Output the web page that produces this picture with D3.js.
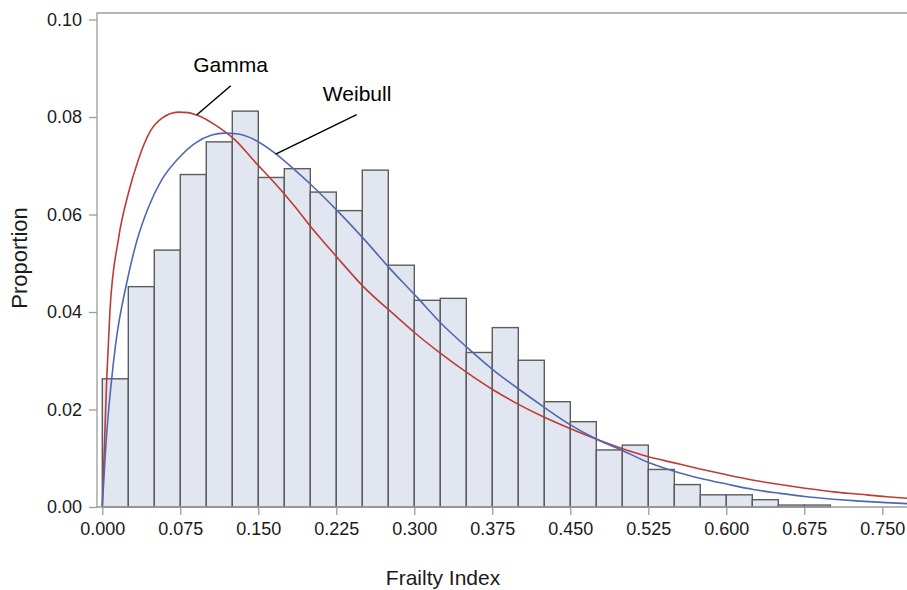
<!DOCTYPE html>
<html>
<head>
<meta charset="utf-8">
<script src="https://cdn.jsdelivr.net/npm/d3@7"></script>
<style>
  body { margin: 0; background: #fff; }
  svg { display: block; font-family: Arial, "Liberation Sans", Helvetica, sans-serif; }
</style>
</head>
<body>
<svg id="chart" width="907" height="590"></svg>
<script>
// histogram: bin lower edges (width 0.025) and proportions
const binWidth = 0.025;
const binStarts = [0.000, 0.025, 0.050, 0.075, 0.100, 0.125, 0.150, 0.175, 0.200, 0.225,
                   0.250, 0.275, 0.300, 0.325, 0.350, 0.375, 0.400, 0.425, 0.450, 0.475,
                   0.500, 0.525, 0.550, 0.575, 0.600, 0.625, 0.650, 0.675];
const proportions = [0.0263, 0.0452, 0.0527, 0.0682, 0.0749, 0.0812, 0.0676, 0.0694, 0.0646, 0.0608,
                     0.0691, 0.0496, 0.0424, 0.0428, 0.0317, 0.0368, 0.0301, 0.0216, 0.0175, 0.0117,
                     0.0127, 0.0077, 0.0046, 0.0025, 0.0025, 0.0015, 0.0004, 0.0004];

// fitted density curves
const gammaX = [0, 0.0042, 0.0074, 0.0154, 0.0250, 0.0346, 0.0459, 0.0571, 0.0731, 0.0827,
                0.0908, 0.1084, 0.1276, 0.1468, 0.1660, 0.1853, 0.1997, 0.2254, 0.2510, 0.2831,
                0.2990, 0.3247, 0.3504, 0.3760, 0.4016, 0.4240, 0.4497, 0.4754, 0.5010, 0.5235,
                0.5490, 0.5747, 0.6004, 0.6260, 0.6516, 0.6773, 0.7029, 0.7285, 0.7542, 0.7740];
const gammaY = [0, 0.0261, 0.0404, 0.0548, 0.0643, 0.0712, 0.0770, 0.0797, 0.0810, 0.0809,
                0.0804, 0.0784, 0.0753, 0.0708, 0.0664, 0.0616, 0.0577, 0.0513, 0.0452, 0.0390,
                0.0360, 0.0316, 0.0276, 0.0240, 0.0209, 0.0185, 0.0161, 0.0139, 0.0119, 0.0104,
                0.0091, 0.0078, 0.0066, 0.0055, 0.0046, 0.0038, 0.0031, 0.0026, 0.0021, 0.0018];

const weibullX = [0, 0.0042, 0.0084, 0.0129, 0.0235, 0.0331, 0.0442, 0.0571, 0.0731, 0.0891,
                  0.1052, 0.1180, 0.1308, 0.1468, 0.1660, 0.1853, 0.1997, 0.2254, 0.2510, 0.2766,
                  0.3023, 0.3247, 0.3504, 0.3760, 0.4016, 0.4240, 0.4497, 0.4754, 0.5010, 0.5235,
                  0.5490, 0.5747, 0.6004, 0.6260, 0.6516, 0.6773, 0.7029, 0.7285, 0.7542, 0.7740];
const weibullY = [0, 0.0150, 0.0250, 0.0335, 0.0460, 0.0545, 0.0614, 0.0671, 0.0715, 0.0746,
                  0.0763, 0.0767, 0.0765, 0.0753, 0.0726, 0.0691, 0.0663, 0.0609, 0.0551, 0.0489,
                  0.0431, 0.0379, 0.0328, 0.0281, 0.0240, 0.0206, 0.0169, 0.0139, 0.0115, 0.0093,
                  0.0074, 0.0059, 0.0047, 0.0036, 0.0028, 0.0021, 0.0016, 0.0012, 0.0009, 0.0007];

const xTicks = [0, 0.075, 0.15, 0.225, 0.3, 0.375, 0.45, 0.525, 0.6, 0.675, 0.75];
const yTicks = [0, 0.02, 0.04, 0.06, 0.08, 0.10];

// curve labels: text anchor and leader line (data units)
const labels = [
  { name: "Gamma",   tx: 0.1233, ty: 0.0892, x1: 0.1235, y1: 0.0864, x2: 0.0907, y2: 0.0804 },
  { name: "Weibull", tx: 0.2450, ty: 0.0833, x1: 0.2446, y1: 0.0805, x2: 0.1667, y2: 0.0724 }
];

const svg = d3.select("#chart");
const plot = { left: 97, right: 907, top: 13, bottom: 507 };

const x = d3.scaleLinear().domain([0, 0.75]).range([102.3, 882.3]);
const y = d3.scaleLinear().domain([0, 0.1]).range([507, 19.5]);

const axisColor = "#9c9c9c";
const textColor = "#1a1a1a";

svg.append("defs").append("clipPath").attr("id", "clip")
  .append("rect")
  .attr("x", plot.left).attr("y", plot.top)
  .attr("width", plot.right - plot.left).attr("height", plot.bottom - plot.top);

// bars
svg.append("g")
  .selectAll("rect")
  .data(binStarts)
  .join("rect")
  .attr("x", (d) => x(d))
  .attr("y", (d, i) => y(proportions[i]))
  .attr("width", (d) => x(d + binWidth) - x(d))
  .attr("height", (d, i) => y(0) - y(proportions[i]))
  .attr("fill", "#e2e6f0")
  .attr("stroke", "#5c5c5c")
  .attr("stroke-width", 1.4);

// curves
const line = d3.line()
  .x((d) => x(d[0]))
  .y((d) => y(d[1]))
  .curve(d3.curveMonotoneX);

const curves = svg.append("g").attr("clip-path", "url(#clip)");
curves.append("path")
  .datum(gammaX.map((v, i) => [v, gammaY[i]]))
  .attr("d", line)
  .attr("fill", "none")
  .attr("stroke", "#bd3c36")
  .attr("stroke-width", 1.6);
curves.append("path")
  .datum(weibullX.map((v, i) => [v, weibullY[i]]))
  .attr("d", line)
  .attr("fill", "none")
  .attr("stroke", "#5068b4")
  .attr("stroke-width", 1.6);

// frame (left, top, bottom)
svg.append("path")
  .attr("d", `M${plot.right},${plot.top}H${plot.left}V${plot.bottom}H${plot.right}`)
  .attr("fill", "none")
  .attr("stroke", axisColor)
  .attr("stroke-width", 1.3);

// y axis
const yAxis = svg.append("g")
  .attr("transform", `translate(${plot.left},0)`)
  .call(d3.axisLeft(y).tickValues(yTicks).tickFormat(d3.format(".2f")).tickSize(8).tickPadding(7));
yAxis.select(".domain").remove();
yAxis.selectAll(".tick line").attr("stroke", axisColor).attr("stroke-width", 1.3);
yAxis.selectAll(".tick text")
  .attr("fill", textColor)
  .style("font-size", "18px")
  .style("font-family", "Arial, 'Liberation Sans', sans-serif");

// x axis
const xAxis = svg.append("g")
  .attr("transform", `translate(0,${plot.bottom})`)
  .call(d3.axisBottom(x).tickValues(xTicks).tickFormat(d3.format(".3f")).tickSize(8).tickPadding(7));
xAxis.select(".domain").remove();
xAxis.selectAll(".tick line").attr("stroke", axisColor).attr("stroke-width", 1.3);
xAxis.selectAll(".tick text")
  .attr("fill", textColor)
  .style("font-size", "18px")
  .style("font-family", "Arial, 'Liberation Sans', sans-serif");

// axis titles
svg.append("text")
  .attr("x", 443)
  .attr("y", 585)
  .attr("text-anchor", "middle")
  .attr("fill", textColor)
  .style("font-size", "21px")
  .text("Frailty Index");

svg.append("text")
  .attr("transform", `translate(27,258) rotate(-90)`)
  .attr("text-anchor", "middle")
  .attr("fill", textColor)
  .style("font-size", "22px")
  .text("Proportion");

// curve labels with leader lines
const ann = svg.append("g");
ann.selectAll("line")
  .data(labels)
  .join("line")
  .attr("x1", (d) => x(d.x1)).attr("y1", (d) => y(d.y1))
  .attr("x2", (d) => x(d.x2)).attr("y2", (d) => y(d.y2))
  .attr("stroke", "#000")
  .attr("stroke-width", 1.5);
ann.selectAll("text")
  .data(labels)
  .join("text")
  .attr("x", (d) => x(d.tx))
  .attr("y", (d) => y(d.ty))
  .attr("text-anchor", "middle")
  .attr("fill", "#000")
  .style("font-size", "21px")
  .text((d) => d.name);
</script>
</body>
</html>
